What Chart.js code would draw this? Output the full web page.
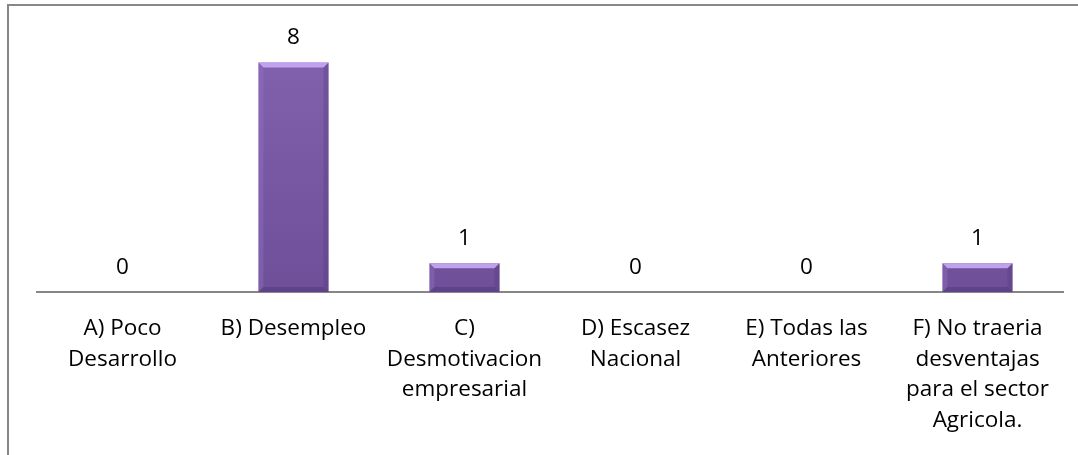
<!DOCTYPE html>
<html>
<head>
<meta charset="utf-8">
<script src="https://cdn.jsdelivr.net/npm/chart.js@4"></script>
<style>
  html, body { margin: 0; padding: 0; background: #fff; }
  #wrap { position: relative; width: 1078px; height: 455px; overflow: hidden; }
  #frame { position: absolute; left: 7px; top: 4px; width: 1200px; height: 600px;
           border-top: 2px solid #878787; border-left: 2px solid #878787; }
  canvas { position: absolute; left: 0; top: 0; }
</style>
</head>
<body>
<div id="wrap">
  <div id="frame"></div>
  <canvas id="c" width="1078" height="455"></canvas>
</div>
<script>
const categories = [
  ["A) Poco", "Desarrollo"],
  ["B) Desempleo"],
  ["C)", "Desmotivacion", "empresarial"],
  ["D) Escasez", "Nacional"],
  ["E) Todas las", "Anteriores"],
  ["F) No traeria", "desventajas", "para el sector", "Agricola."]
];
const values = [0, 8, 1, 0, 0, 1];

const FONT = "'Open Sans', 'DejaVu Sans', sans-serif";

const valueLabels = {
  id: 'valueLabels',
  afterDatasetsDraw(chart) {
    const ctx = chart.ctx;
    const meta = chart.getDatasetMeta(0);
    ctx.save();
    ctx.font = "22.5px " + FONT;
    ctx.fillStyle = "#000";
    ctx.textAlign = "center";
    ctx.textBaseline = "alphabetic";
    meta.data.forEach((bar, i) => {
      ctx.fillText(String(values[i]), bar.x, bar.y - 18);
    });
    ctx.restore();
  }
};

const bevel = {
  id: 'bevel',
  afterDatasetsDraw(chart) {
    const ctx = chart.ctx;
    const meta = chart.getDatasetMeta(0);
    ctx.save();
    meta.data.forEach((bar) => {
      const h = bar.base - bar.y;
      if (h < 2) return;
      const l = bar.x - bar.width / 2, r = bar.x + bar.width / 2;
      const t = bar.y, b = bar.base;
      const d = Math.min(5, h / 2);
      ctx.fillStyle = "rgba(200,170,245,0.9)";
      ctx.beginPath();
      ctx.moveTo(l, t); ctx.lineTo(r, t); ctx.lineTo(r - d, t + d); ctx.lineTo(l + d, t + d); ctx.closePath(); ctx.fill();
      ctx.fillStyle = "rgba(150,120,200,0.35)";
      ctx.beginPath();
      ctx.moveTo(l, t); ctx.lineTo(l + d, t + d); ctx.lineTo(l + d, b - d); ctx.lineTo(l, b); ctx.closePath(); ctx.fill();
      ctx.fillStyle = "rgba(80,55,115,0.3)";
      ctx.beginPath();
      ctx.moveTo(r, t); ctx.lineTo(r - d, t + d); ctx.lineTo(r - d, b - d); ctx.lineTo(r, b); ctx.closePath(); ctx.fill();
      ctx.fillStyle = "rgba(70,45,105,0.35)";
      ctx.beginPath();
      ctx.moveTo(l, b); ctx.lineTo(l + d, b - d); ctx.lineTo(r - d, b - d); ctx.lineTo(r, b); ctx.closePath(); ctx.fill();
    });
    ctx.restore();
  }
};

new Chart(document.getElementById('c'), {
  type: 'bar',
  data: {
    labels: categories,
    datasets: [{
      data: values,
      backgroundColor: (ctx) => {
        const chart = ctx.chart;
        const area = chart.chartArea;
        if (!area) return '#7b5ba6';
        const g = chart.ctx.createLinearGradient(0, area.top, 0, area.bottom);
        g.addColorStop(0, '#8664b2');
        g.addColorStop(1, '#6e4f98');
        return g;
      },
      borderWidth: 0,
      categoryPercentage: 1.0,
      barPercentage: 0.41
    }]
  },
  options: {
    responsive: false,
    animation: false,
    layout: { padding: { left: 37, right: 15, top: 5, bottom: 0 } },
    plugins: { legend: { display: false }, tooltip: { enabled: false } },
    scales: {
      x: {
        grid: { display: false, drawTicks: false },
        border: { display: true, color: '#868686', width: 2 },
        ticks: {
          color: '#000',
          font: { family: FONT, size: 22.5, lineHeight: 1.37 },
          padding: 21,
          maxRotation: 0,
          autoSkip: false
        },
        afterFit: (s) => { s.height = 163; }
      },
      y: {
        display: false,
        min: 0,
        max: 10
      }
    }
  },
  plugins: [valueLabels, bevel]
});
</script>
</body>
</html>
